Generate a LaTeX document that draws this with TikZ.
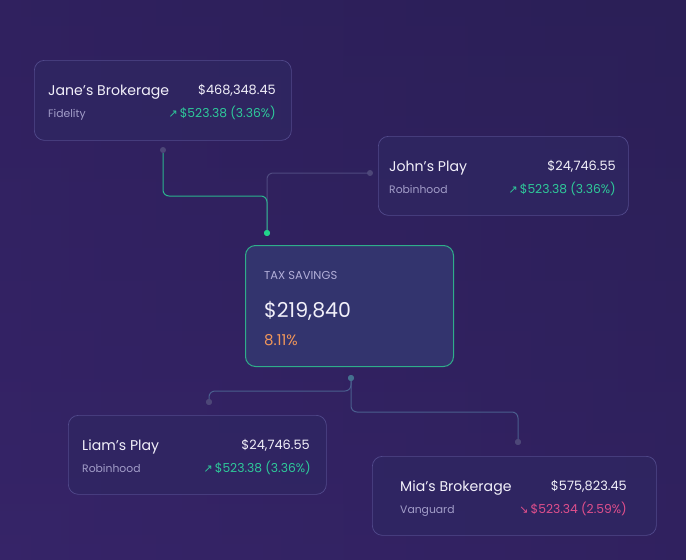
\documentclass[tikz,border=0pt]{standalone}
\usepackage{fontspec}
\setmainfont{Poppins}
\newfontfamily\symf{DejaVu Sans}
\usetikzlibrary{calc}
\definecolor{bgA}{HTML}{2B1F57}
\definecolor{bgB}{HTML}{362468}
\definecolor{cardfill}{HTML}{2F2762}
\definecolor{cardline}{HTML}{524A8C}
\definecolor{taxfill}{HTML}{33346E}
\definecolor{taxline}{HTML}{2FAE8A}
\definecolor{titlec}{HTML}{F2F0FA}
\definecolor{subc}{HTML}{A29DC8}
\definecolor{upc}{HTML}{2EC99A}
\definecolor{downc}{HTML}{E04F8C}
\definecolor{orangec}{HTML}{F0965A}
\definecolor{labelc}{HTML}{B2AED8}
\definecolor{greenline}{HTML}{2BB38E}
\definecolor{grayline}{HTML}{4F4A80}
\definecolor{blueline}{HTML}{4A5E8E}
\definecolor{graydot}{HTML}{4D4778}
\definecolor{greendot}{HTML}{22D38A}
\definecolor{bluedot}{HTML}{44708F}
\tikzset{
  card/.style={draw=cardline, line width=0.7pt, fill=cardfill, fill opacity=0.75, rounded corners=10pt, anchor=north west, inner sep=0pt},
  taxbox/.style={draw=taxline, line width=1pt, fill=taxfill, rounded corners=10pt, anchor=north west, inner sep=0pt},
  ttl/.style={text=titlec, font=\fontsize{14.1}{16}\selectfont, anchor=base west, inner sep=0pt},
  amt/.style={text=titlec, font=\fontsize{12.9}{14}\selectfont, anchor=base east, inner sep=0pt},
  sub/.style={text=subc, font=\fontsize{10.8}{13}\selectfont, anchor=base west, inner sep=0pt},
  chg/.style={font=\fontsize{12.3}{13}\selectfont, anchor=base east, inner sep=0pt},
  dotn/.style={circle, inner sep=0pt, minimum size=#1},
  conn/.style={line width=1pt, rounded corners=6pt}
}
\newcommand{\upar}{{\symf\fontsize{11}{10}\selectfont ↗}\hspace{2pt}}
\newcommand{\dnar}{{\symf\fontsize{11}{10}\selectfont ↘}\hspace{2pt}}
\begin{document}
\begin{tikzpicture}[x=1pt,y=-1pt]
\useasboundingbox (0,0) rectangle (686,560);
\shade[left color=bgB, right color=bgA] (0,0) rectangle (686,560);
\shade[top color=bgA, bottom color=bgB, opacity=0.5] (0,0) rectangle (686,560);

% connectors
\node[dotn=6pt, fill=graydot] (jadot) at (163,150) {};
\node[dotn=6pt, fill=graydot] (jodot) at (370,173) {};
\node[dotn=6pt, fill=greendot] (gdot) at (267,233) {};
\node[dotn=6pt, fill=bluedot] (bdot) at (351,378) {};
\node[dotn=6pt, fill=graydot] (lidot) at (209,402) {};
\node[dotn=6pt, fill=graydot] (midot) at (518,442) {};
\coordinate (ja1) at (163,196);
\coordinate (b1) at (351,391);
\coordinate (b2) at (351,412);

\draw[conn, grayline] (jodot.center) -| (gdot.center);
\draw[conn, greenline] (jadot.south) -- (ja1) -| (gdot.center);
\draw[conn, blueline] (bdot.center) -- (b1) -| (lidot.center);
\draw[conn, blueline] (bdot.center) -- (b2) -| (midot.center);
\node[dotn=6pt, fill=greendot] at (gdot) {};
\node[dotn=6pt, fill=bluedot] at (bdot) {};
\node[dotn=6pt, fill=graydot] at (lidot) {};
\node[dotn=6pt, fill=graydot] at (midot) {};

% cards
\node[card, minimum width=257pt, minimum height=80pt] (jane) at (34,60) {};
\node[ttl] (janeT) at (48,95) {Jane’s Brokerage};
\node[amt] (janeA) at (276,94) {\$468,348.45};
\node[sub] (janeS) at (48,117) {Fidelity};
\node[chg, text=upc] (janeC) at (276,117) {\upar\$523.38 (3.36\%)};

\node[card, minimum width=250pt, minimum height=79pt] (john) at (378,136) {};
\node[ttl] (johnT) at (389,171) {John’s Play};
\node[amt] (johnA) at (616,170) {\$24,746.55};
\node[sub] (johnS) at (389,193) {Robinhood};
\node[chg, text=upc] (johnC) at (616,193) {\upar\$523.38 (3.36\%)};

\node[taxbox, minimum width=208pt, minimum height=121pt] (tax) at (245,245) {};
\node[text=labelc, font=\fontsize{11.5}{12}\selectfont, anchor=base west, inner sep=0pt] (taxL) at (264,279) {TAX SAVINGS};
\node[text=titlec, font=\fontsize{20.5}{22}\selectfont, anchor=base west, inner sep=0pt] (taxV) at (264,317) {\$219,840};
\node[text=orangec, font=\fontsize{15}{16}\selectfont, anchor=base west, inner sep=0pt] (taxP) at (264,345) {8.11\%};

\node[card, minimum width=258pt, minimum height=79pt] (liam) at (68,415) {};
\node[ttl] (liamT) at (82,450) {Liam’s Play};
\node[amt] (liamA) at (310,449) {\$24,746.55};
\node[sub] (liamS) at (82,472) {Robinhood};
\node[chg, text=upc] (liamC) at (311,472) {\upar\$523.38 (3.36\%)};

\node[card, minimum width=284pt, minimum height=79pt] (mia) at (372,456) {};
\node[ttl] (miaT) at (400,491) {Mia’s Brokerage};
\node[amt] (miaA) at (627,490) {\$575,823.45};
\node[sub] (miaS) at (400,513) {Vanguard};
\node[chg, text=downc] (miaC) at (627,513) {\dnar\$523.34 (2.59\%)};
\end{tikzpicture}
\end{document}
